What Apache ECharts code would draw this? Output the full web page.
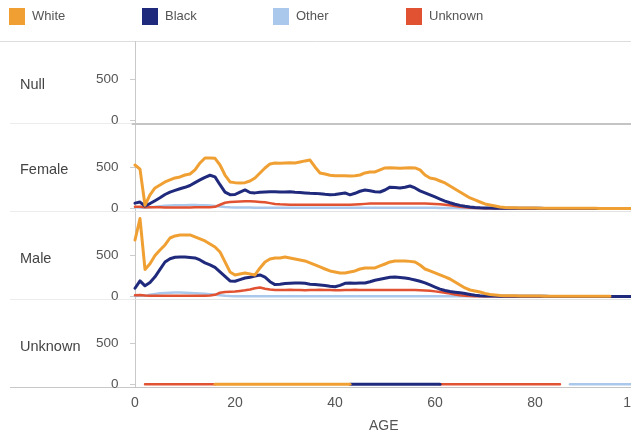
<!DOCTYPE html>
<html><head><meta charset="utf-8">
<script src="https://cdn.jsdelivr.net/npm/echarts@6/dist/echarts.min.js"></script>
<style>html,body{margin:0;padding:0;background:#fff;}#c{width:631px;height:436px;}</style>
</head><body><div id="c"></div>
<script>
const N = null;
const AGES = Array.from({length: 101}, (_, i) => i);
const X_TICKS = [0, 20, 40, 60, 80, 100];
const Y_TICKS = [0, 500];
const PANELS = ['Null', 'Female', 'Male', 'Unknown'];
const SERIES_NAMES = ['White', 'Black', 'Other', 'Unknown'];

const FEMALE_WHITE = [
530,480,40,165,250,287,323,348,372,384,
408,420,470,555,616,616,612,530,408,323,
315,312,315,335,372,433,494,543,555,552,
555,558,555,567,580,591,506,433,420,405,
400,398,400,396,398,408,433,445,445,470,
494,496,494,490,494,498,494,470,408,372,
360,335,311,274,238,201,165,128,104,79,
55,43,30,18,12,9,8,7,6,5,
5,4,4,3,3,3,3,2,2,2,
2,2,2,1,1,1,1,1,1,1,
1];
const FEMALE_BLACK = [
65,78,30,60,95,130,170,200,220,240,
258,280,315,348,380,405,385,290,200,168,
170,200,226,195,190,198,201,205,203,200,
201,203,198,195,190,186,184,180,172,166,
170,180,189,166,185,210,226,215,205,201,
225,260,255,250,258,274,250,215,190,165,
140,115,90,70,52,38,26,18,12,8,
6,5,4,4,3,3,3,2,2,2,
2,2,1,1,1,1,1,1,1,1,
1,1,1,1,1,1,1,0,0,0,
0];
const FEMALE_OTHER = [
15,12,10,15,20,28,32,35,38,40,
40,42,42,40,38,35,30,25,18,14,
12,12,11,11,10,10,10,10,10,10,
10,10,10,10,10,10,10,10,10,10,
10,10,10,10,10,10,10,10,10,10,
10,10,10,10,10,10,10,9,9,8,
8,7,6,5,5,4,4,3,3,3,
2,2,2,2,2,2,2,2,2,2,
1,1,1,1,1,1,1,1,1,1,
1,1,1,0,0,0,0,0,0,0,
0];
const FEMALE_UNKNOWN = [
20,22,15,15,14,14,13,13,13,13,
13,13,14,14,15,16,20,45,70,78,
82,85,88,88,85,80,75,65,55,50,
48,46,45,45,45,44,44,45,45,46,
45,45,44,45,48,52,56,60,60,60,
61,62,62,61,60,60,60,60,60,58,
55,50,45,38,30,22,15,10,7,5,
4,3,3,2,2,2,2,1,1,1,
1,1,1,1,1,1,1,1,1,1,
0,0,0,0,0,0,0,0,0,0,
0];
const MALE_WHITE = [
689,950,330,400,500,567,628,713,738,750,
750,750,726,701,677,640,604,543,421,299,
262,274,287,274,262,348,421,457,470,470,
482,470,457,445,433,409,384,360,335,311,
299,287,287,299,311,335,348,348,348,372,
396,421,433,433,433,428,420,384,335,311,
287,262,238,213,177,140,104,79,67,55,
37,24,18,12,10,9,8,7,6,6,
5,5,4,4,4,3,3,3,3,2,
2,2,2,2,2,2,N,N,N,N,
N];
const MALE_BLACK = [
100,190,130,170,240,330,420,460,478,482,
480,476,470,445,410,385,355,300,245,190,
185,205,225,235,250,262,235,180,145,150,
158,162,165,165,160,150,145,140,135,125,
118,135,160,165,162,165,165,180,198,210,
222,235,238,232,226,215,200,185,165,140,
115,90,72,60,52,45,35,24,14,8,
6,5,5,4,4,3,3,3,2,2,
2,2,2,1,1,1,1,1,1,1,
1,1,1,1,1,1,1,1,1,1,
1];
const MALE_OTHER = [
5,8,10,20,30,38,42,45,48,48,
45,42,40,36,32,28,22,15,8,5,
4,4,4,4,4,4,4,4,4,4,
4,4,4,4,4,4,4,4,4,4,
4,4,4,4,4,4,4,4,4,4,
4,4,4,4,4,3,3,3,3,3,
3,3,3,3,2,2,2,2,2,2,
2,2,1,1,1,1,1,1,1,1,
1,1,1,1,1,1,1,0,0,0,
0,0,0,0,0,0,0,0,0,0,
0];
const MALE_UNKNOWN = [
15,18,12,10,10,10,10,10,10,10,
10,10,10,10,10,12,20,45,55,58,
62,68,75,85,100,110,95,85,80,78,
80,82,80,78,76,78,80,82,80,78,
76,75,78,80,82,80,78,78,78,78,
78,80,80,78,78,78,78,76,74,70,
62,55,45,35,25,15,10,6,4,3,
2,2,2,2,1,1,1,1,1,1,
1,1,1,1,1,0,0,0,0,0,
0,0,0,0,0,0,0,0,0,0,
0];
const UNK_WHITE = [
N,N,N,N,N,N,N,N,N,N,
N,N,N,N,N,N,2,2,2,2,
2,2,2,2,2,2,2,2,2,2,
2,2,2,2,2,2,2,2,2,2,
2,2,2,2,N,N,N,N,N,N,
N,N,N,N,N,N,N,N,N,N,
N,N,N,N,N,N,N,N,N,N,
N,N,N,N,N,N,N,N,N,N,
N,N,N,N,N,N,N,N,N,N,
N,N,N,N,N,N,N,N,N,N,
N];
const UNK_BLACK = [
N,N,N,N,N,N,N,N,N,N,
N,N,N,N,N,N,N,N,N,N,
N,N,N,N,N,N,N,N,N,N,
N,N,N,N,N,N,N,N,N,N,
N,N,N,2,2,2,2,2,2,2,
2,2,2,2,2,2,2,2,2,2,
2,2,N,N,N,N,N,N,N,N,
N,N,N,N,N,N,N,N,N,N,
N,N,N,N,N,N,N,N,N,N,
N,N,N,N,N,N,N,N,N,N,
N];
const UNK_OTHER = [
N,N,N,N,N,N,N,N,N,N,
N,N,N,N,N,N,N,N,N,N,
N,N,N,N,N,N,N,N,N,N,
N,N,N,N,N,N,N,N,N,N,
N,N,N,N,N,N,N,N,N,N,
N,N,N,N,N,N,N,N,N,N,
N,N,N,N,N,N,N,N,N,N,
N,N,N,N,N,N,N,N,N,N,
N,N,N,N,N,N,N,2,2,2,
2,2,2,2,2,2,2,2,2,2,
2];
const UNK_UNKNOWN = [
N,N,2,2,2,2,2,2,2,2,
2,2,2,2,2,2,2,N,N,N,
N,N,N,N,N,N,N,N,N,N,
N,N,N,N,N,N,N,N,N,N,
N,N,N,N,N,N,N,N,N,N,
N,N,N,N,N,N,N,N,N,N,
N,2,2,2,2,2,2,2,2,2,
2,2,2,2,2,2,2,2,2,2,
2,2,2,2,2,2,N,N,N,N,
N,N,N,N,N,N,N,N,N,N,
N];

const COLORS = {White: '#F0A032', Black: '#202A7C', Other: '#AAC8EB', Unknown: '#E15232'};
const WIDTHS = {White: 3, Black: 3, Other: 2.5, Unknown: 2.5};
const FONT = '"Liberation Sans", Arial, sans-serif';

const panelData = [
  {},
  {White: FEMALE_WHITE, Black: FEMALE_BLACK, Other: FEMALE_OTHER, Unknown: FEMALE_UNKNOWN},
  {White: MALE_WHITE, Black: MALE_BLACK, Other: MALE_OTHER, Unknown: MALE_UNKNOWN},
  {White: UNK_WHITE, Black: UNK_BLACK, Other: UNK_OTHER, Unknown: UNK_UNKNOWN}
];

const bottoms = [123.5, 211.5, 299.5, 387.5];
const grids = [], xAxes = [], yAxes = [], series = [];
PANELS.forEach((p, i) => {
  const top = i === 0 ? 41.5 : bottoms[i] - 88;
  const h = bottoms[i] - top;
  const yMin = -37;
  const yMax = yMin + h / 0.082;
  grids.push({left: 132.5, width: 502.5, top: top, height: h, containLabel: false, outerBoundsMode: 'none'});
  const last = i === PANELS.length - 1;
  xAxes.push({
    type: 'value', gridIndex: i, min: -0.5, max: 100,
    axisLine: {show: true, onZero: false, lineStyle: {color: (i === 0 || last) ? '#c4c4c4' : '#e2e2e2', width: i === 0 ? 2 : 1}},
    axisTick: {show: false},
    splitLine: {show: false},
    axisLabel: {show: last, customValues: X_TICKS, fontSize: 14, color: '#555', margin: 9, fontFamily: FONT, hideOverlap: false},
    name: last ? 'AGE' : '', nameLocation: 'middle', nameGap: 32,
    nameTextStyle: {fontSize: 14, color: '#555', fontFamily: FONT}
  });
  yAxes.push({
    type: 'value', gridIndex: i, min: yMin, max: yMax,
    axisLine: {show: true, lineStyle: {color: '#c8c8c8'}},
    axisTick: {show: true, customValues: Y_TICKS, length: 5, lineStyle: {color: '#cccccc'}},
    axisLabel: {customValues: Y_TICKS, fontSize: 13.5, color: '#555', margin: 14, fontFamily: FONT, padding: [0, 0, 4, 0]},
    splitLine: {show: false}
  });
  ['Other', 'Unknown', 'Black', 'White'].forEach(name => {
    const arr = panelData[i][name];
    if (!arr) return;
    series.push({
      name: name, type: 'line', xAxisIndex: i, yAxisIndex: i,
      data: arr.map((v, k) => [AGES[k], v]),
      showSymbol: false, symbol: 'none', silent: true,
      lineStyle: {color: COLORS[name], width: WIDTHS[name], join: 'round', cap: 'round'},
      itemStyle: {color: COLORS[name]},
      emphasis: {disabled: true}
    });
  });
});

const legendLefts = [4, 137, 268, 401];
const legends = SERIES_NAMES.map((n, i) => ({
  left: legendLefts[i], top: 3, data: [{name: n, icon: 'rect', itemStyle: {color: COLORS[n]}}],
  itemWidth: 16, itemHeight: 17, selectedMode: false,
  textStyle: {fontSize: 13, color: '#555', fontFamily: FONT, padding: [0, 0, 0, 2]}
}));

const labelYs = [85, 170, 259, 347];
const graphics = [];
graphics.push({type: 'line', shape: {x1: 0, y1: 41.5, x2: 631, y2: 41.5}, style: {stroke: '#dddddd', lineWidth: 1}, silent: true});
bottoms.forEach((b, i) => {
  graphics.push({type: 'line', shape: {x1: 10, y1: b, x2: 132.5, y2: b},
    style: {stroke: i === 3 ? '#c8c8c8' : '#ececec', lineWidth: 1}, silent: true});
});
PANELS.forEach((p, i) => {
  graphics.push({type: 'text', x: 20, y: labelYs[i], silent: true,
    style: {text: p, fill: '#444', font: '14.5px ' + FONT, verticalAlign: 'middle', align: 'left'}});
});

const chart = echarts.init(document.getElementById('c'), null, {renderer: 'canvas'});
chart.setOption({
  animation: false,
  backgroundColor: '#ffffff',
  textStyle: {fontFamily: FONT},
  legend: legends,
  grid: grids,
  xAxis: xAxes,
  yAxis: yAxes,
  series: series,
  graphic: graphics
});
</script>
</body></html>
